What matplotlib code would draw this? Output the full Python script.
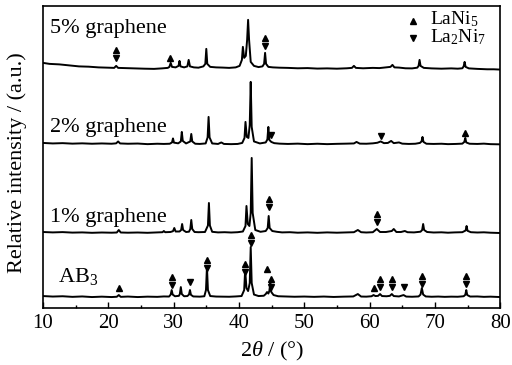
import matplotlib
matplotlib.use("Agg")
import matplotlib.pyplot as plt

plt.rcParams["font.family"] = ["Liberation Serif", "DejaVu Serif"]
plt.rcParams["mathtext.fontset"] = "custom"
plt.rcParams["mathtext.rm"] = "Liberation Serif"
plt.rcParams["mathtext.it"] = "Liberation Serif:italic"

# --- AB3 pattern (2theta, intensity) ---
ab3_x = [10.0, 11.5, 13, 14.5, 16, 17.5, 19, 20.5, 21.3, 21.6, 21.9, 23, 24.5, 26, 27.5, 28.5,
         29.3, 29.55, 29.7, 29.85, 30.2, 30.8, 30.95, 31.1, 31.25, 31.6, 32.1, 32.35, 32.5, 32.65,
         33.0, 34, 34.7, 34.95, 35.1, 35.25, 35.6, 36.5, 37.5, 38.5, 39.5, 40.4, 40.8, 40.95, 41.15,
         41.4, 41.65, 41.8, 41.95, 42.3, 43.0, 43.8, 44.1, 44.3, 44.5, 44.65, 44.8, 44.95, 45.3, 46,
         47, 48.5, 50, 51.5, 53, 54.5, 56, 57.5, 58.2, 58.7, 59.5, 60.3, 60.6, 60.9, 61.3, 61.6, 61.9,
         62.6, 63.1, 63.4, 63.7, 64.5, 65.2, 65.6, 66.5, 67.5, 67.8, 68.0, 68.2, 68.6, 69.5, 70.5,
         71.5, 72.5, 73.5, 74.4, 74.65, 74.8, 74.95, 75.4, 76.5, 77.5, 78.5, 80]
ab3_y = [1.0, 0.5, 0.8, 0.2, 0.6, 0.0, 0.4, 0.0, 0.3, 2.0, 0.2, 0.5, 0, 0.4, 0.2, 0.6,
         0.5, 2.5, 7, 2.5, 0.8, 1.2, 3, 10, 3, 0.8, 1, 2.5, 7, 2.2,
         0.6, 0.4, 0.8, 7, 30, 7, 1, 0.5, 0.4, 0.3, 0.6, 1, 7, 27, 9,
         6, 14, 50, 14, 2.5, 1, 1.3, 3, 5, 3.5, 6, 14, 5, 2, 0.8,
         0.6, 0.3, 0.5, 0.2, 0.5, 0.1, 0.4, 0.6, 3, 0.5, 0.4, 0.8, 2, 1, 1.2, 3, 1,
         0.8, 1.2, 3, 1, 0.6, 2, 0.5, 0.3, 0.6, 2.5, 9, 2.5, 0.6, 0.3, 0.5,
         0.2, 0.4, 0.3, 0.8, 2.2, 7, 2, 0.5, 0.6, 0.2, 0.4, 0.0]

# --- 1% graphene ---
g1_x = [10, 11.5, 13, 14.5, 16, 17.5, 19, 20.5, 21.3, 21.6, 21.9, 23, 24.5, 26, 27.5, 28.3, 28.5,
        28.7, 29.5, 29.9, 30.1, 30.3, 30.9, 31.15, 31.3, 31.45, 31.9, 32.35, 32.55, 32.7, 32.85,
        33.2, 33.8, 34.8, 35.25, 35.4, 35.55, 35.9, 36.8, 37.8, 38.8, 39.8, 40.6, 41.0, 41.15,
        41.35, 41.6, 41.8, 41.95, 42.1, 42.5, 43.3, 44.1, 44.4, 44.55, 44.7, 45.1, 45.8, 46.6,
        47.8, 49, 50.5, 52, 53.5, 55, 56.5, 57.6, 58.2, 58.7, 59.5, 60.5, 61.1, 61.6, 62.5, 63.4,
        63.7, 64.1, 64.8, 65.4, 65.8, 66.8, 67.8, 68.05, 68.2, 68.35, 68.8, 69.8, 71, 72, 73,
        74.2, 74.7, 74.85, 75.0, 75.5, 76.5, 77.5, 78.5, 80]
g1_y = [1.0, 0.6, 0.9, 0.4, 0.6, 0.2, 0.5, 0.3, 0.5, 3, 0.5, 0.3, 0.5, 0.2, 0.6, 0.8, 2,
        0.8, 1, 1.8, 5, 1.5, 1.5, 3, 9, 3, 1, 1.3, 4, 13, 4,
        1, 0.8, 1, 7.5, 30, 7.5, 1.2, 0.6, 0.8, 0.5, 0.8, 1.5, 7, 27,
        9, 7, 20, 75, 20, 3, 1.2, 2, 5, 17, 5, 2, 1.2, 0.6,
        0.8, 0.3, 0.6, 0.2, 0.6, 0.3, 0.6, 0.8, 3, 0.8, 0.5, 0.8, 4, 1, 1, 2,
        4, 1, 1, 2, 0.8, 0.6, 1.3, 3, 9, 3, 1, 0.5, 0.7, 0.3, 0.6,
        0.8, 2.5, 7, 2.2, 0.8, 0.5, 0.7, 0.3, 0.0]

# --- 2% graphene ---
g2_x = [10, 11.5, 13, 14.5, 16, 17.5, 19, 20.5, 21.2, 21.5, 21.8, 23, 24.5, 26, 27.5, 28.5,
        29.4, 29.75, 29.9, 30.05, 30.7, 31.1, 31.25, 31.4, 31.9, 32.55, 32.7, 32.85, 33.3, 34,
        34.9, 35.2, 35.35, 35.5, 35.9, 36.8, 37.3, 37.7, 38.8, 39.8, 40.5, 40.85, 41.0, 41.2,
        41.45, 41.65, 41.8, 41.95, 42.3, 43.2, 44.1, 44.35, 44.5, 44.65, 44.95, 45.4, 46.2, 47.5,
        49, 50.5, 52, 53.5, 55, 56.5, 57.6, 58, 58.5, 59.5, 60.5, 61.2, 61.7, 62.2, 62.8, 63.3,
        63.7, 64.5, 65, 66, 67, 67.7, 67.95, 68.1, 68.25, 68.7, 69.8, 71, 72, 73.2, 74.2, 74.5,
        74.65, 74.8, 75.3, 76.5, 77.5, 78.5, 80]
g2_y = [2, 1.5, 1.8, 1.3, 1.6, 1.2, 1.5, 1.2, 1.6, 3.5, 1.5, 1.2, 1.4, 0.8, 1.2, 1.0,
        1.2, 2.5, 6.5, 2.3, 1.6, 3.5, 13, 4, 1.5, 3.5, 11, 3.5, 1.2, 1,
        1.5, 7.5, 28, 7.5, 1.5, 1.0, 2.5, 1, 0.8, 1, 2, 7, 23, 8,
        7, 20, 63, 18, 3.5, 1.5, 2.5, 5.5, 18, 5, 3, 1.8, 1.3, 1.0,
        1.3, 0.8, 1.2, 0.8, 1.1, 1.3, 1.5, 3, 1.3, 1.2, 1.6, 2.2, 3.5, 1.8, 2, 4,
        1.8, 2.5, 1.3, 1, 1.2, 2, 3.5, 8, 3, 1.2, 1, 1.2, 0.8, 1, 1.3, 3,
        7, 2.5, 1.2, 1.0, 1.3, 0.8, 0.6]

# --- 5% graphene ---
g5_x = [10, 11, 12.5, 14, 15.5, 17, 18.5, 20, 20.9, 21.2, 21.5, 22.5, 24, 25.5, 27, 28.2, 29.1,
        29.35, 29.55, 29.75, 30.3, 30.75, 30.9, 31.05, 31.6, 32.1, 32.3, 32.5, 33.1, 33.8, 34.55,
        34.85, 35.0, 35.15, 35.6, 36.5, 37.5, 38.5, 39.5, 40.1, 40.45, 40.6, 40.8, 41.05, 41.25,
        41.4, 41.55, 41.8, 42.3, 43.0, 43.6, 43.85, 44.0, 44.15, 44.5, 45.2, 46.2, 47.5, 49,
        50.5, 52, 53.5, 55, 56.5, 57.3, 57.6, 57.9, 59, 60.5, 61.5, 62.5, 63.2, 63.5, 63.8, 64.5,
        65.5, 66.5, 67.3, 67.5, 67.65, 67.8, 68.3, 69.5, 71, 72.5, 73.5, 74.2, 74.4, 74.55, 74.7,
        75.2, 76.5, 78, 79, 80]
g5_y = [7, 6, 5.5, 4.5, 3.5, 3.2, 2.5, 2.2, 2, 4, 2, 1.8, 1.5, 1.2, 1, 1.5, 2,
        3, 7, 3, 2.5, 4, 9, 3.5, 2.5, 3.5, 10, 3.5, 2.5, 2.2, 3.5,
        6, 21, 6, 3, 2.5, 2.3, 2.0, 2.5, 4, 10, 23, 12, 14, 30,
        50, 30, 8, 4, 2.8, 3.5, 6, 17, 6, 3, 2.5, 2.2, 2.0, 1.6,
        1.8, 1.3, 1.5, 1.2, 1.6, 2, 4, 2, 1.6, 2, 1.8, 2.5, 3, 5, 2.5, 2.3,
        1.6, 1.5, 2.2, 4, 10, 4, 2.0, 1.5, 1.2, 1.5, 1.2, 1.6, 3.5, 8, 3,
        1.5, 1.0, 0.6, 0.6, 0.3]

traces = [(ab3_x, ab3_y, 11), (g1_x, g1_y, 75), (g2_x, g2_y, 163), (g5_x, g5_y, 238)]

# phase markers (2theta, y on the stacked scale)
lani5_x = [21.2, 29.5, 44.0, 74.6, 44.6, 61.1, 21.6, 29.7, 35.1, 40.9, 41.8, 44.3, 44.9,
           60.6, 61.6, 63.4, 68.0, 74.8]
lani5_y = [258, 250, 270, 175, 109, 94, 20, 31, 48, 44, 73, 39, 29, 20, 29, 29, 32, 32]
la2ni7_x = [21.2, 44.0, 44.9, 61.7, 44.6, 61.1, 29.7, 32.5, 35.1, 40.9, 41.8, 44.9, 61.6,
            63.4, 65.2, 68.0, 74.8]
la2ni7_y = [250, 262, 173, 172, 101, 86, 23, 26, 40, 36, 65, 21, 21, 21, 21, 24, 24]

labels = ["AB$_3$", "1% graphene", "2% graphene", "5% graphene"]
label_y = [26, 86, 176, 275]

fig = plt.figure(figsize=(5.12, 3.65), dpi=100)
ax = fig.add_axes([0.084, 0.156, 0.893, 0.828])

for x, y, off in traces:
    ax.plot(x, [v + off for v in y], color="black", lw=1.4)

ax.plot(lani5_x, lani5_y, ls="none", marker="^", ms=4.8, color="black")
ax.plot(la2ni7_x, la2ni7_y, ls="none", marker="v", ms=4.8, color="black")

for lab, ly in zip(labels, label_y):
    x0 = 12.3 if lab.startswith("AB") else 11.0
    ax.text(x0, ly, lab, fontsize=16, va="baseline", ha="left")

# legend
ax.plot([66.6], [287], marker="^", ms=4.8, color="black")
ax.plot([66.6], [270], marker="v", ms=4.8, color="black")
ax.text(69.2, 289, "LaNi$_5$", fontsize=14, va="center")
ax.text(69.2, 271, "La$_2$Ni$_7$", fontsize=14, va="center")

ax.set_xlim(10, 80)
ax.set_ylim(0, 302)
ax.set_xticks(range(10, 81, 10))
ax.set_xticks(range(15, 80, 10), minor=True)
ax.set_yticks([])
ax.tick_params(axis="x", which="major", direction="in", length=4, width=1, labelsize=15, pad=4)
ax.tick_params(axis="x", which="minor", direction="in", length=2.5, width=1)
for s in ax.spines.values():
    s.set_linewidth(1.2)

ax.set_xlabel("2$\\theta$ / (°)", fontsize=16)
ax.xaxis.set_label_coords(0.5, -0.105)
ax.set_ylabel("Relative intensity / (a.u.)", fontsize=16)
ax.yaxis.set_label_coords(-0.034, 0.48)

fig.savefig("out.png", dpi=100)
